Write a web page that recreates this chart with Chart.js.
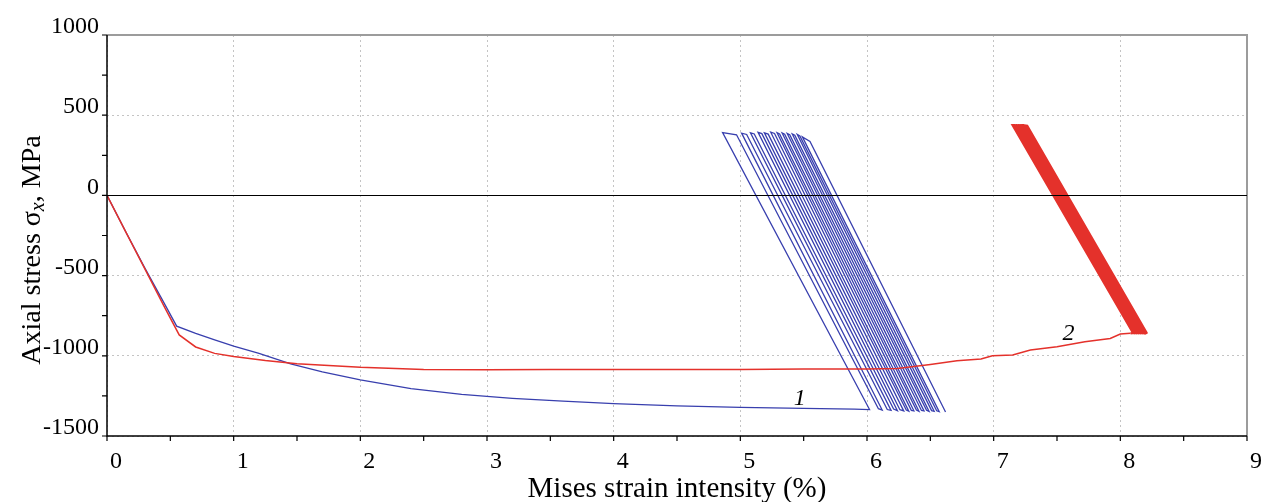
<!DOCTYPE html>
<html>
<head>
<meta charset="utf-8">
<script src="https://cdn.jsdelivr.net/npm/chart.js@4/dist/chart.umd.min.js"></script>
<style>
  body { margin: 0; background: #fff; }
</style>
</head>
<body>
<canvas id="stressChart" width="1264" height="502"></canvas>
<script>
// curve 1 (blue): monotonic loading, then cycles
const blueStrain = [
  0, 0.15, 0.3, 0.45, 0.55, 0.7, 0.85, 1.0, 1.2, 1.45, 1.7, 2.0, 2.4, 2.8, 3.2, 3.6, 4.0, 4.5, 5.0, 5.5, 5.9, 6.02,
  4.86, 4.97, 6.09,
  6.12, 5.01, 5.05, 6.16,
  6.19, 5.08, 5.11, 6.21,
  6.24, 5.14, 5.17, 6.26,
  6.29, 5.19, 5.22, 6.31,
  6.33, 5.24, 5.27, 6.35,
  6.37, 5.29, 5.31, 6.39,
  6.41, 5.33, 5.35, 6.43,
  6.45, 5.37, 5.39, 6.47,
  6.49, 5.41, 5.43, 6.51,
  6.53, 5.45, 5.47, 6.55,
  6.57, 5.49, 5.55, 6.62
];
const blueStress = [
  0, -230, -455, -670, -815, -860, -900, -940, -985, -1050, -1100, -1150, -1205, -1240, -1265, -1283, -1298, -1312, -1322, -1328, -1333, -1335,
  392, 378, -1330,
  -1338, 388, 380, -1335,
  -1340, 390, 383, -1332,
  -1342, 393, 385, -1336,
  -1344, 390, 382, -1338,
  -1345, 394, 386, -1340,
  -1343, 391, 383, -1338,
  -1346, 389, 381, -1341,
  -1344, 386, 378, -1340,
  -1347, 383, 375, -1342,
  -1346, 380, 370, -1343,
  -1348, 365, 337, -1350
];

// curve 2 (red)
const redStrain = [
  0, 0.15, 0.3, 0.45, 0.57, 0.7, 0.85, 1.0, 1.25, 1.5, 2.0, 2.5, 3.0, 3.5, 4.0, 4.5, 5.0, 5.5, 6.0, 6.24, 6.5, 6.71, 6.9, 6.99, 7.15, 7.29, 7.5, 7.72, 7.92, 8.0, 8.08,
  8.10, 7.15, 7.17, 8.115,
  8.125, 7.16, 7.18, 8.13,
  8.14, 7.175, 7.195, 8.145,
  8.155, 7.19, 7.21, 8.16,
  8.17, 7.205, 7.225, 8.175,
  8.185, 7.22, 7.24, 8.19,
  8.195, 7.235, 7.25, 8.20,
  8.205, 7.245, 7.265, 8.21
];
const redStress = [
  0, -230, -460, -690, -870, -945, -985, -1005, -1030, -1050, -1072, -1085, -1087, -1085, -1086, -1085, -1085, -1083, -1082, -1079, -1054, -1031, -1020, -1000, -995, -964, -944, -912, -892, -864, -860,
  -858, 437, 435, -860,
  -858, 436, 434, -860,
  -858, 436, 434, -860,
  -858, 436, 434, -860,
  -858, 436, 434, -860,
  -858, 436, 434, -860,
  -858, 436, 434, -860,
  -858, 436, 434, -860
];
const redCycleStart = 30; // index where the red cycling begins

const xTickValues = [0, 1, 2, 3, 4, 5, 6, 7, 8, 9];
const xMinorTicks = [0, 0.5, 1, 1.5, 2, 2.5, 3, 3.5, 4, 4.5, 5, 5.5, 6, 6.5, 7, 7.5, 8, 8.5, 9];
const yMinorTicks = [-1500, -1250, -1000, -750, -500, -250, 0, 250, 500, 750, 1000];

const curveLabels = ['1', '2'];
const curveLabelX = [5.47, 7.59];
const curveLabelY = [-1265, -860];

const toPoints = (xs, ys) => xs.map((x, i) => ({ x: x, y: ys[i] }));

const serif = "'Liberation Serif', 'Times New Roman', serif";

const decor = {
  id: 'decor',
  afterDraw(chart) {
    const { ctx, chartArea: a, scales: { x, y } } = chart;
    ctx.save();
    // frame top / right
    ctx.strokeStyle = '#9c9c9c';
    ctx.lineWidth = 2;
    ctx.beginPath();
    ctx.moveTo(a.left, a.top);
    ctx.lineTo(a.right, a.top);
    ctx.lineTo(a.right, a.bottom);
    ctx.stroke();

    // zero line
    ctx.strokeStyle = '#000';
    ctx.lineWidth = 1;
    const y0 = Math.round(y.getPixelForValue(0)) + 0.5;
    ctx.beginPath();
    ctx.moveTo(a.left, y0);
    ctx.lineTo(a.right, y0);
    ctx.stroke();

    // axes + tick marks
    ctx.lineWidth = 1.5;
    ctx.beginPath();
    ctx.moveTo(a.left, a.top);
    ctx.lineTo(a.left, a.bottom);
    ctx.lineTo(a.right, a.bottom);
    ctx.stroke();
    ctx.lineWidth = 1.2;
    ctx.beginPath();
    xMinorTicks.forEach(v => {
      const px = x.getPixelForValue(v);
      ctx.moveTo(px, a.bottom);
      ctx.lineTo(px, a.bottom + 5);
    });
    yMinorTicks.forEach(v => {
      const py = y.getPixelForValue(v);
      ctx.moveTo(a.left, py);
      ctx.lineTo(a.left - 5, py);
    });
    ctx.stroke();

    // curve numbers
    ctx.fillStyle = '#000';
    ctx.font = 'italic 24px ' + serif;
    ctx.textAlign = 'center';
    ctx.textBaseline = 'middle';
    curveLabels.forEach((t, i) => {
      ctx.fillText(t, x.getPixelForValue(curveLabelX[i]), y.getPixelForValue(curveLabelY[i]));
    });

    // x title
    ctx.font = '29px ' + serif;
    ctx.fillText('Mises strain intensity (%)', (a.left + a.right) / 2, 489);

    // y title with italic subscript
    ctx.translate(33, 250);
    ctx.rotate(-Math.PI / 2);
    const p1 = 'Axial stress \u03c3', p3 = ', MPa';
    ctx.font = '28px ' + serif;
    const w1 = ctx.measureText(p1).width, w3 = ctx.measureText(p3).width;
    ctx.font = 'italic 20px ' + serif;
    const w2 = ctx.measureText('x').width;
    const start = -(w1 + w2 + w3) / 2;
    ctx.textAlign = 'left';
    ctx.font = '28px ' + serif;
    ctx.fillText(p1, start, 0);
    ctx.font = 'italic 20px ' + serif;
    ctx.fillText('x', start + w1, 6);
    ctx.font = '28px ' + serif;
    ctx.fillText(p3, start + w1 + w2, 0);
    ctx.restore();
  }
};

const ctx = document.getElementById('stressChart').getContext('2d');
const stressChart = new Chart(ctx, {
  type: 'line',
  data: {
    datasets: [
      {
        label: '2',
        data: toPoints(redStrain, redStress),
        borderColor: '#e4312b',
        borderWidth: 1.5,
        segment: {
          borderWidth: c => c.p0DataIndex >= redCycleStart ? 2.2 : 1.5
        },
        pointRadius: 0,
        tension: 0
      },
      {
        label: '1',
        data: toPoints(blueStrain, blueStress),
        borderColor: '#383fae',
        borderWidth: 1.3,
        pointRadius: 0,
        tension: 0
      }
    ]
  },
  options: {
    responsive: false,
    animation: false,
    layout: { padding: { top: 35, right: 16, left: 0, bottom: 0 } },
    plugins: {
      legend: { display: false },
      tooltip: { enabled: false }
    },
    scales: {
      x: {
        type: 'linear',
        min: 0,
        max: 9,
        afterFit: s => { s.height = 66; },
        afterBuildTicks: s => { s.ticks = xTickValues.map(v => ({ value: v })); },
        ticks: {
          color: '#000',
          font: { family: serif, size: 24 },
          padding: 11,
          labelOffset: 9,
          maxRotation: 0
        },
        grid: {
          drawTicks: false,
          color: '#c4c4c4',
          lineWidth: 1
        },
        border: { display: false, dash: [2, 3] }
      },
      y: {
        type: 'linear',
        min: -1500,
        max: 1000,
        afterFit: s => { s.width = 107; },
        ticks: {
          stepSize: 500,
          color: '#000',
          font: { family: serif, size: 24 },
          padding: 8,
          labelOffset: -8,
          callback: v => String(v)
        },
        grid: {
          drawTicks: false,
          color: c => (c.tick && c.tick.value === 0) ? 'rgba(0,0,0,0)' : '#c4c4c4',
          lineWidth: 1
        },
        border: { display: false, dash: [2, 3] }
      }
    }
  },
  plugins: [decor]
});
</script>
</body>
</html>
